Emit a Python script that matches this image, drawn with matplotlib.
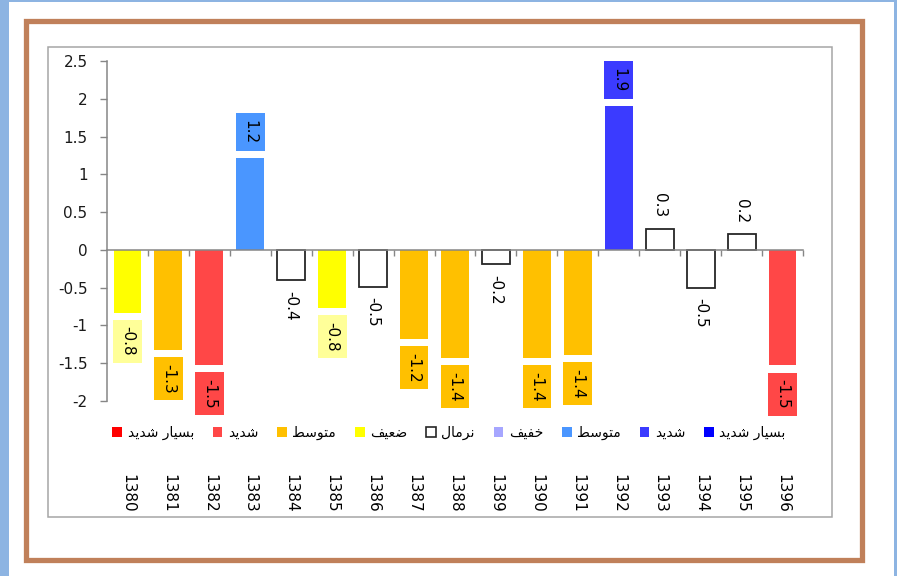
import matplotlib
matplotlib.use('Agg')
import matplotlib.pyplot as plt
import matplotlib.transforms as mtransforms
from matplotlib.patches import Rectangle, Patch

W, H = 897, 576

# data
years = ['1380', '1381', '1382', '1383', '1384', '1385', '1386', '1387', '1388',
         '1389', '1390', '1391', '1392', '1393', '1394', '1395', '1396']
values = [-0.83, -1.32, -1.52, 1.22, -0.40, -0.77, -0.49, -1.18, -1.43,
          -0.19, -1.43, -1.39, 1.90, 0.28, -0.50, 0.21, -1.53]
classes = ['dry1', 'dry2', 'dry3', 'wet2', 'norm', 'dry1', 'norm', 'dry2', 'dry2',
           'norm', 'dry2', 'dry2', 'wet3', 'norm', 'norm', 'norm', 'dry3']

# legend, left to right
legend_keys = ['dry4', 'dry3', 'dry2', 'dry1', 'norm', 'wet1', 'wet2', 'wet3', 'wet4']
legend_names = ['بسیار شدید', 'شدید', 'متوسط', 'ضعیف', 'نرمال',
                'خفیف', 'متوسط', 'شدید', 'بسیار شدید']

bar_colors = {'dry4': '#FF0000', 'dry3': '#FF4747', 'dry2': '#FFC000', 'dry1': '#FFFF00',
              'norm': 'white', 'wet1': '#A6A6FF', 'wet2': '#4A96FF', 'wet3': '#3B3BFF',
              'wet4': '#0000FF'}
box_colors = {'dry3': '#FF4747', 'dry2': '#FFC000', 'dry1': '#FFFF99',
              'wet2': '#4A96FF', 'wet3': '#3B3BFF'}

# arabic letters -> (isolated, final, initial, medial)
FORMS = {
    'ا': ('\uFE8D', '\uFE8E', None, None),
    'ب': ('\uFE8F', '\uFE90', '\uFE91', '\uFE92'),
    'ت': ('\uFE95', '\uFE96', '\uFE97', '\uFE98'),
    'خ': ('\uFEA5', '\uFEA6', '\uFEA7', '\uFEA8'),
    'د': ('\uFEA9', '\uFEAA', None, None),
    'ر': ('\uFEAD', '\uFEAE', None, None),
    'س': ('\uFEB1', '\uFEB2', '\uFEB3', '\uFEB4'),
    'ش': ('\uFEB5', '\uFEB6', '\uFEB7', '\uFEB8'),
    'ض': ('\uFEBD', '\uFEBE', '\uFEBF', '\uFEC0'),
    'ط': ('\uFEC1', '\uFEC2', '\uFEC3', '\uFEC4'),
    'ع': ('\uFEC9', '\uFECA', '\uFECB', '\uFECC'),
    'ف': ('\uFED1', '\uFED2', '\uFED3', '\uFED4'),
    'ل': ('\uFEDD', '\uFEDE', '\uFEDF', '\uFEE0'),
    'م': ('\uFEE1', '\uFEE2', '\uFEE3', '\uFEE4'),
    'ن': ('\uFEE5', '\uFEE6', '\uFEE7', '\uFEE8'),
    'و': ('\uFEED', '\uFEEE', None, None),
    'ی': ('\uFBFC', '\uFBFD', '\uFBFE', '\uFBFF'),
}


def shape(s):
    out = []
    for i, c in enumerate(s):
        if c not in FORMS:
            out.append(c)
            continue
        f = FORMS[c]
        prev = s[i - 1] if i > 0 else ' '
        nxt = s[i + 1] if i < len(s) - 1 else ' '
        cp = prev in FORMS and FORMS[prev][2] is not None
        cn = nxt in FORMS and f[2] is not None
        idx = 3 if (cp and cn) else 1 if cp else 2 if cn else 0
        out.append(f[idx])
    return ''.join(reversed(out))


def fx(px):
    return px / W


def fy(py):
    return 1 - py / H


fig = plt.figure(figsize=(W / 100, H / 100), dpi=100)

# page chrome
blue = '#8DB4E2'
for x0, y0, x1, y1 in [(0, 0, 9, 576), (0, 0, 897, 2), (894, 0, 897, 576)]:
    fig.add_artist(Rectangle((fx(x0), fy(y1)), fx(x1) - fx(x0), fy(y0) - fy(y1),
                             transform=fig.transFigure, facecolor=blue, edgecolor='none'))
fig.add_artist(Rectangle((fx(25.5), fy(559.5)), fx(861.5) - fx(25.5), fy(20.5) - fy(559.5),
                         transform=fig.transFigure, facecolor='none',
                         edgecolor='#C0805A', linewidth=3.8))
fig.add_artist(Rectangle((fx(48), fy(517)), fx(832) - fx(48), fy(47) - fy(517),
                         transform=fig.transFigure, facecolor='none',
                         edgecolor='#A6A6A6', linewidth=1.1))

ax = fig.add_axes([fx(107), fy(401), fx(803) - fx(107), fy(61) - fy(401)])
xs = list(range(len(years)))
for x, v, c in zip(xs, values, classes):
    edge = '#262626' if c == 'norm' else 'none'
    ax.bar(x, v, width=0.68, color=bar_colors[c], edgecolor=edge, linewidth=1.3, zorder=2)
    lab = f'{v:.1f}'
    off = 8 if v > 0 else -7.5
    va = 'bottom' if v > 0 else 'top'
    bbox = None
    if c in box_colors:
        bbox = dict(boxstyle='square,pad=0.45', facecolor=box_colors[c], edgecolor='none')
        off = 10 if v > 0 else -10
    ax.annotate(lab, (x, v), xytext=(0, off), textcoords='offset points',
                ha='center', va=va, rotation=270, fontsize=11, color='black',
                bbox=bbox, zorder=3)

ax.set_xlim(-0.5, len(years) - 0.5)
ax.set_ylim(-2, 2.5)
ax.set_yticks([-2, -1.5, -1, -0.5, 0, 0.5, 1, 1.5, 2, 2.5])
ax.set_yticklabels(['-2', '-1.5', '-1', '-0.5', '0', '0.5', '1', '1.5', '2', '2.5'])
ax.set_xticks([x + 0.5 for x in xs[:-1]] + [len(years) - 0.5])
ax.set_xticklabels([])

for s in ['top', 'right']:
    ax.spines[s].set_visible(False)
ax.spines['bottom'].set_position(('data', 0))
for s in ['left', 'bottom']:
    ax.spines[s].set_color('#868686')
    ax.spines[s].set_linewidth(1.1)
ax.tick_params(axis='y', direction='out', length=5, width=1, color='#868686',
               labelsize=11, pad=9, labelcolor='#1a1a1a')
ax.tick_params(axis='x', direction='out', length=4, width=1, color='#868686')
ax.set_facecolor('none')

trans = mtransforms.blended_transform_factory(ax.transData, fig.transFigure)
for x, yr in zip(xs, years):
    ax.text(x, fy(474), yr, transform=trans, rotation=270, ha='center', va='top',
            fontsize=11, color='black')

handles = []
for k in legend_keys:
    ec = '#262626' if k == 'norm' else 'none'
    handles.append(Patch(facecolor=bar_colors[k], edgecolor=ec, linewidth=1.2))
fig.legend(handles, [shape(n) for n in legend_names], loc='center',
           bbox_to_anchor=(fx(449), fy(433)), ncol=9, frameon=False,
           handlelength=0.7, handleheight=0.7, handletextpad=0.4,
           columnspacing=1.35, fontsize=10)

fig.savefig('out.png', dpi=100)
